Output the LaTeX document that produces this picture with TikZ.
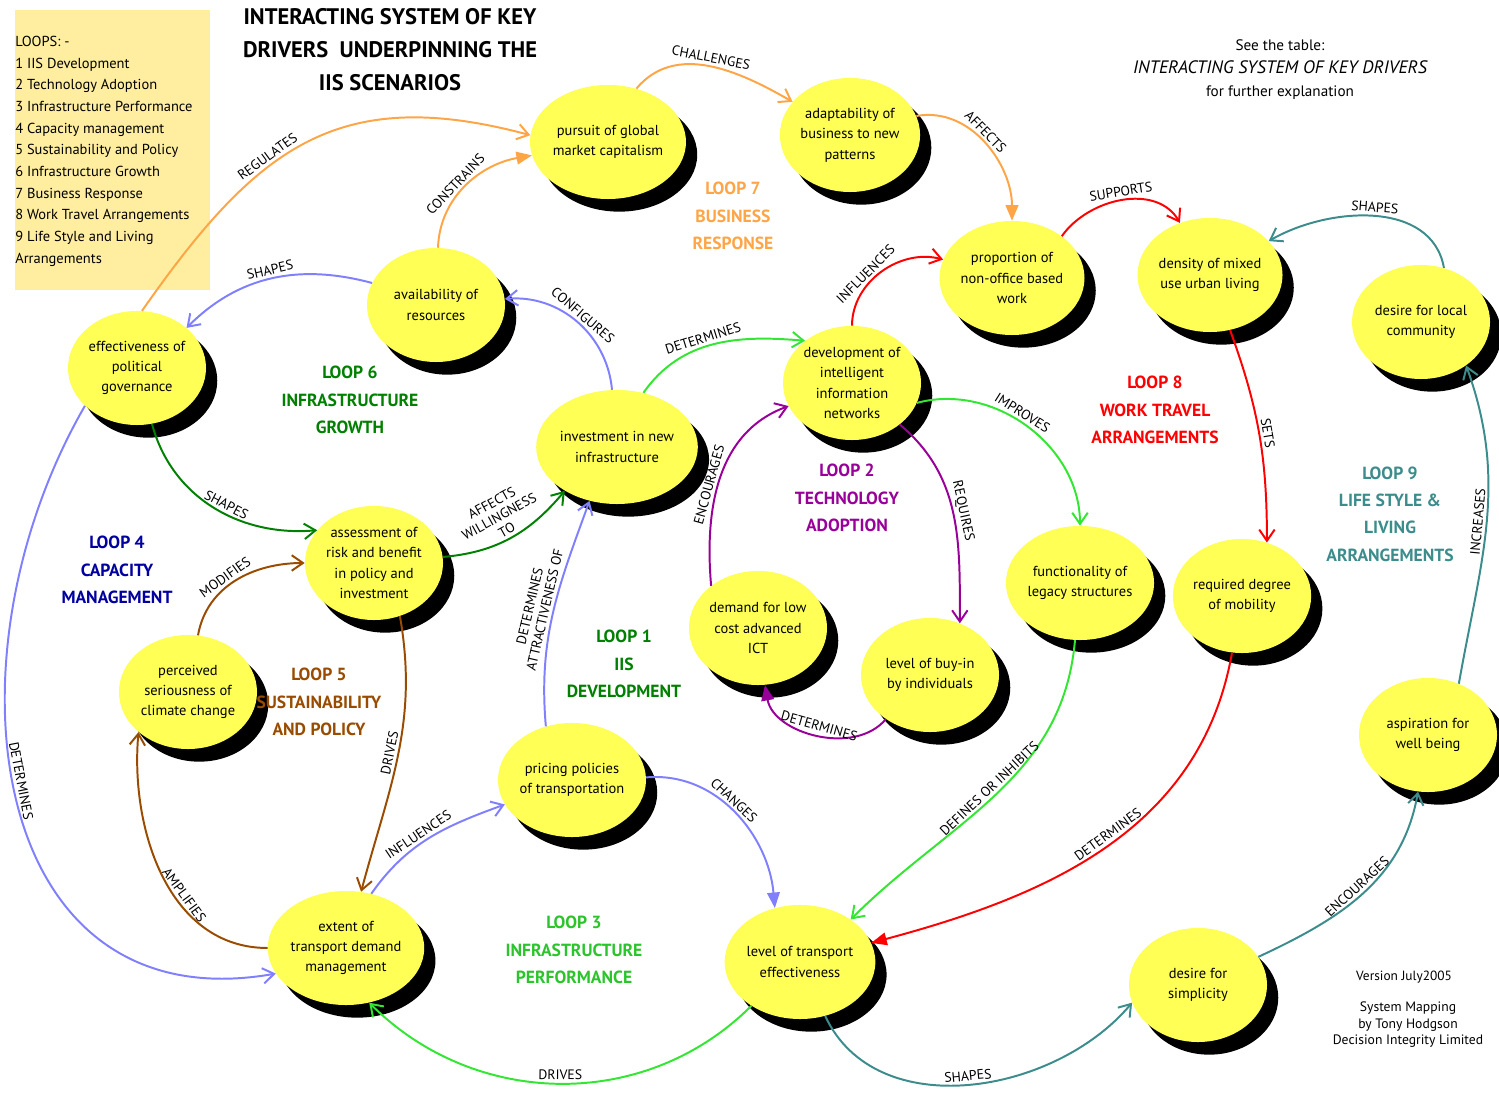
\documentclass[tikz,border=0pt]{standalone}
\usepackage{fontspec}
\setmainfont{PT Sans}
\usetikzlibrary{shapes.geometric,shadows,arrows.meta}

\definecolor{factyellow}{RGB}{255,255,85}
\definecolor{legendbg}{RGB}{255,238,160}
\definecolor{corange}{RGB}{255,165,70}
\definecolor{cred}{RGB}{255,0,0}
\definecolor{cteal}{RGB}{60,140,140}
\definecolor{clav}{RGB}{128,128,255}
\definecolor{cdgreen}{RGB}{0,128,0}
\definecolor{clgreen}{RGB}{50,230,50}
\definecolor{cpurple}{RGB}{153,0,153}
\definecolor{cbrown}{RGB}{153,76,0}
\definecolor{cnavy}{RGB}{0,0,160}

\tikzstyle{fac}=[shape=ellipse, fill=factyellow, minimum width=3.45cm,
                  minimum height=2.85cm, inner sep=0pt, align=center,
                  font=\fontsize{10.3}{14.5}\selectfont,
                  drop shadow={shadow xshift=8pt, shadow yshift=-9pt,
                  opacity=1, fill=black}]
\tikzstyle{cl}=[line width=1.4pt, -{Straight Barb[length=8pt,width=11pt]}]
\tikzstyle{cs}=[line width=1.4pt, -{Triangle[length=11pt,width=9pt]}]
\tikzstyle{lab}=[sloped, above, font=\fontsize{9.8}{11}\selectfont,
                  inner sep=2pt, align=center]
\tikzstyle{looptitle}=[font=\bfseries\fontsize{12.5}{19.5}\selectfont,
                  align=center]

\begin{document}
\begin{tikzpicture}[x=0.025cm, y=0.025cm]
\useasboundingbox (0,0) rectangle (1499,1100);

% legend and headings
\fill[legendbg] (15,810) rectangle (210,1090);
\node[anchor=north west, inner sep=0pt, align=left,
      font=\fontsize{10.3}{15.4}\selectfont] (legend) at (15,1064)
  {LOOPS: -\\1 IIS Development\\2 Technology Adoption\\3 Infrastructure Performance\\
   4 Capacity management\\5 Sustainability and Policy\\6 Infrastructure Growth\\
   7 Business Response\\8 Work Travel Arrangements\\9 Life Style and Living\\Arrangements};
\node[align=center, font=\bfseries\fontsize{16}{23.5}\selectfont] (title) at (390,1050)
  {INTERACTING SYSTEM OF KEY\\DRIVERS\ \ UNDERPINNING THE\\IIS SCENARIOS};
\node[align=center, font=\fontsize{10.8}{16.4}\selectfont] (seetable) at (1280,1030)
  {See the table:\\{\fontsize{12.8}{16.4}\selectfont\itshape INTERACTING SYSTEM OF KEY DRIVERS}\\for further explanation};
\node[font=\fontsize{9.5}{11}\selectfont] (version) at (1404,123) {Version July2005};
\node[align=center, font=\fontsize{9.7}{11.7}\selectfont] (credit) at (1408,75)
  {System Mapping\\by Tony Hodgson\\Decision Integrity Limited};

% nodes
\node[fac] (pursuit) at (608,958) {pursuit of global\\market capitalism};
\node[fac] (adapt) at (850,965) {adaptability of\\business to new\\patterns};
\node[fac] (nonoffice) at (1012,822) {proportion of\\non-office based\\work};
\node[fac] (density) at (1210,825) {density of mixed\\use urban living};
\node[fac] (localcom) at (1421,778) {desire for local\\community};
\node[fac] (avail) at (436,795) {availability of\\resources};
\node[fac] (govern) at (137,732) {effectiveness of\\political\\governance};
\node[fac] (netdev) at (852,717) {development of\\intelligent\\information\\networks};
\node[fac] (invest) at (617,653) {investment in new\\infrastructure};
\node[fac] (assess) at (374,537) {assessment of\\risk and benefit\\in policy and\\investment};
\node[fac] (legacy) at (1080,517) {functionality of\\legacy structures};
\node[fac] (mobility) at (1242,504) {required degree\\of mobility};
\node[fac] (ict) at (758,472) {demand for low\\cost advanced\\ICT};
\node[fac] (buyin) at (930,425) {level of buy-in\\by individuals};
\node[fac] (climate) at (188,408) {perceived\\seriousness of\\climate change};
\node[fac] (pricing) at (572,320) {pricing policies\\of transportation};
\node[fac] (wellbeing) at (1428,365) {aspiration for\\well being};
\node[fac] (tdm) at (346,152) {extent of\\transport demand\\management};
\node[fac] (teff) at (800,138) {level of transport\\effectiveness};
\node[fac] (simple) at (1198,115) {desire for\\simplicity};

% loop titles
\node[looptitle, text=corange] (loop7) at (733,884) {LOOP 7\\BUSINESS\\RESPONSE};
\node[looptitle, text=cdgreen] (loop6) at (350,700) {LOOP 6\\INFRASTRUCTURE\\GROWTH};
\node[looptitle, text=cred] (loop8) at (1155,690) {LOOP 8\\WORK TRAVEL\\ARRANGEMENTS};
\node[looptitle, text=cpurple] (loop2) at (847,602) {LOOP 2\\TECHNOLOGY\\ADOPTION};
\node[looptitle, text=cteal] (loop9) at (1390,586) {LOOP 9\\LIFE STYLE \&\\LIVING\\ARRANGEMENTS};
\node[looptitle, text=cnavy] (loop4) at (117,530) {LOOP 4\\CAPACITY\\MANAGEMENT};
\node[looptitle, text=cdgreen] (loop1) at (624,436) {LOOP 1\\IIS\\DEVELOPMENT};
\node[looptitle, text=cbrown] (loop5) at (319,398) {LOOP 5\\SUSTAINABILITY\\AND POLICY};
\node[looptitle, text=clgreen!85!black] (loop3) at (574,150) {LOOP 3\\INFRASTRUCTURE\\PERFORMANCE};

% paths
\path (govern.85) edge[cl, draw=corange, out=55, in=165, looseness=1.2] node[lab, pos=0.4] {REGULATES} (pursuit.175);
\path (avail) edge[cs, draw=corange, out=88, in=190] node[lab, pos=0.45] {CONSTRAINS} (pursuit);
\path (pursuit.62) edge[cl, draw=corange, out=50, in=150] node[lab] {CHALLENGES} (adapt);
\path (adapt.16) edge[cs, draw=corange, out=10, in=90] node[lab, pos=0.45] {AFFECTS} (nonoffice);
\path (netdev) edge[cl, draw=cred, out=90, in=165] node[lab, pos=0.4] {INFLUENCES} (nonoffice);
\path (nonoffice.40) edge[cl, draw=cred, out=55, in=120] node[lab] {SUPPORTS} (density);
\path (density) edge[cl, draw=cred, out=-70, in=90] node[lab] {SETS} (mobility.65);
\path (mobility) edge[cs, draw=cred, out=-100, in=15] node[lab, pos=0.48] {DETERMINES} (teff);
\path (localcom.67) edge[cl, draw=cteal, out=100, in=30] node[lab] {SHAPES} (density);
\path (wellbeing.59) edge[cl, draw=cteal, out=80, in=-70] node[lab] {INCREASES} (localcom.-44);
\path (simple) edge[cl, draw=cteal, out=25, in=-100] node[lab] {ENCOURAGES} (wellbeing);
\path (teff) edge[cl, draw=cteal, out=-65, in=-130] node[lab] {SHAPES} (simple.195);
\path (avail.161) edge[cl, draw=clav, out=165, in=45] node[lab] {SHAPES} (govern.39);
\path (invest) edge[cl, draw=clav, out=95, in=5] node[lab] {CONFIGURES} (avail);
\path (pricing.116) edge[cl, draw=clav, out=95, in=-110] node[lab] {DETERMINES\\ATTRACTIVENESS OF} (invest.-117);
\path (tdm.65) edge[cl, draw=clav, out=55, in=200] node[lab, pos=0.45] {INFLUENCES} (pricing);
\path (pricing.2) edge[cs, draw=clav, out=5, in=95] node[lab, pos=0.45] {CHANGES} (teff.115);
\path (govern.216) edge[cl, draw=clav, out=-120, in=190, looseness=1.25] node[lab, pos=0.47] {DETERMINES} (tdm.200);
\path (govern) edge[cl, draw=cdgreen, out=-75, in=185] node[lab, pos=0.55] {SHAPES} (assess.150);
\path (assess) edge[cl, draw=cdgreen, out=5, in=-130] node[lab] {AFFECTS\\WILLINGNESS\\TO} (invest.-140);
\path (invest.64) edge[cl, draw=clgreen, out=55, in=175] node[lab, pos=0.45] {DETERMINES} (netdev.138);
\path (netdev.-17) edge[cl, draw=clgreen, out=15, in=90] node[lab, pos=0.45] {IMPROVES} (legacy);
\path (legacy) edge[cl, draw=clgreen, out=-95, in=45] node[lab] {DEFINES OR INHIBITS} (teff.40);
\path (teff.222) edge[cl, draw=clgreen, out=-135, in=-45] node[lab] {DRIVES} (tdm.-67);
\path (ict.138) edge[cl, draw=cpurple, out=95, in=200] node[lab, pos=0.45] {ENCOURAGES} (netdev);
\path (netdev.-41) edge[cl, draw=cpurple, out=-40, in=90] node[lab] {REQUIRES} (buyin.60);
\path (buyin.225) edge[cs, draw=cpurple, out=-130, in=-80] node[lab] {DETERMINES} (ict.-83);
\path (climate) edge[cl, draw=cbrown, out=80, in=180] node[lab, pos=0.45] {MODIFIES} (assess);
\path (assess.-64) edge[cl, draw=cbrown, out=-80, in=75] node[lab] {DRIVES} (tdm);
\path (tdm) edge[cl, draw=cbrown, out=180, in=-95] node[lab, pos=0.4] {AMPLIFIES} (climate.219);

\end{tikzpicture}
\end{document}
